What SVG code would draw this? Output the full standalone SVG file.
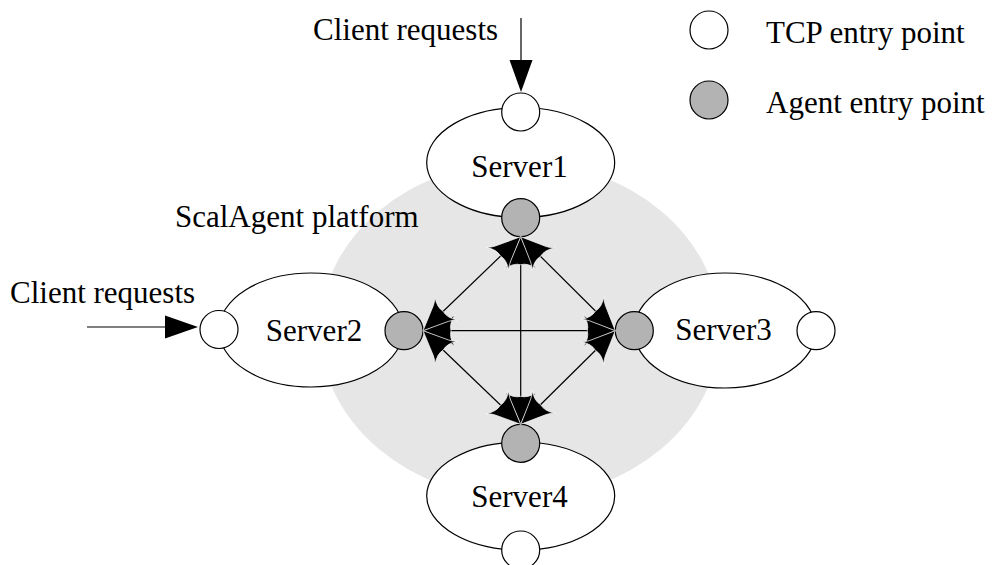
<svg xmlns="http://www.w3.org/2000/svg" width="997" height="565" viewBox="0 0 997 565">
<style>
text { font-family: "Liberation Serif", "Times New Roman", serif; font-size: 31px; fill: #000; }
.srv { fill: #fff; stroke: #000; stroke-width: 1.2; }
.tcp { fill: #fff; stroke: #000; stroke-width: 1.2; }
.agent { fill: #b3b3b3; stroke: #000; stroke-width: 1.2; }
.link { stroke: #000; stroke-width: 1.2; fill: none; marker-start: url(#bat); marker-end: url(#bat); }
.client { stroke: #000; stroke-width: 1.2; fill: none; }
</style>
<defs>
<marker id="bat" markerUnits="userSpaceOnUse" viewBox="-35 -18 37 36" markerWidth="37" markerHeight="36" refX="0" refY="0" orient="auto-start-reverse" overflow="visible">
<path d="M0 0 L-25 -11 Q-29 -13 -32 -16 Q-26 -7 -28 0 Q-26 7 -32 16 Q-29 13 -25 11 Z" fill="#000" stroke="#fff" stroke-width="0.7"/>
</marker>
</defs>
<rect width="997" height="565" fill="#fff"/>
<ellipse id="platform" cx="520" cy="330" rx="200" ry="168" fill="#e6e6e6"/>
<text x="175" y="227">ScalAgent platform</text>

<g id="server1">
<ellipse class="srv" cx="520.7" cy="162.5" rx="94" ry="55"/>
<text x="519.5" y="177" text-anchor="middle">Server1</text>
<circle class="tcp" cx="520.7" cy="112" r="19"/>
<circle class="agent" cx="520.7" cy="217.7" r="19"/>
</g>
<g id="server2">
<ellipse class="srv" cx="311" cy="330" rx="92" ry="57"/>
<text x="314" y="341" text-anchor="middle">Server2</text>
<circle class="tcp" cx="219" cy="329.5" r="19"/>
<circle class="agent" cx="404" cy="330.7" r="19"/>
</g>
<g id="server3">
<ellipse class="srv" cx="725" cy="330.5" rx="91" ry="57.5"/>
<text x="723.5" y="340" text-anchor="middle">Server3</text>
<circle class="agent" cx="634.3" cy="330.7" r="19"/>
<circle class="tcp" cx="816" cy="330.7" r="19"/>
</g>
<g id="server4">
<ellipse class="srv" cx="520.7" cy="496" rx="94" ry="54"/>
<text x="519.5" y="507" text-anchor="middle">Server4</text>
<circle class="agent" cx="520.7" cy="443.3" r="19"/>
<circle class="tcp" cx="520.7" cy="550" r="19"/>
</g>

<g id="connectors">
<line class="link" x1="423" y1="330.7" x2="615.3" y2="330.7"/>
<line class="link" x1="520.7" y1="236.7" x2="520.7" y2="424.3"/>
<line class="link" x1="520.7" y1="236.7" x2="423" y2="330.7"/>
<line class="link" x1="520.7" y1="236.7" x2="615.3" y2="330.7"/>
<line class="link" x1="423" y1="330.7" x2="520.7" y2="424.3"/>
<line class="link" x1="615.3" y1="330.7" x2="520.7" y2="424.3"/>
<line class="client" x1="521" y1="18" x2="521" y2="62"/>
<polygon points="509.5,60 532.5,60 521,92" fill="#000"/>
<line class="client" x1="87" y1="327" x2="167" y2="327"/>
<polygon points="165,315.5 165,338.5 198,327" fill="#000"/>
</g>

<text x="313" y="40">Client requests</text>
<text x="10" y="303">Client requests</text>

<g id="legend">
<circle class="tcp" cx="709" cy="30" r="19"/>
<text x="766" y="43">TCP entry point</text>
<circle class="agent" cx="709" cy="100" r="19"/>
<text x="766" y="113">Agent entry point</text>
</g>
</svg>
